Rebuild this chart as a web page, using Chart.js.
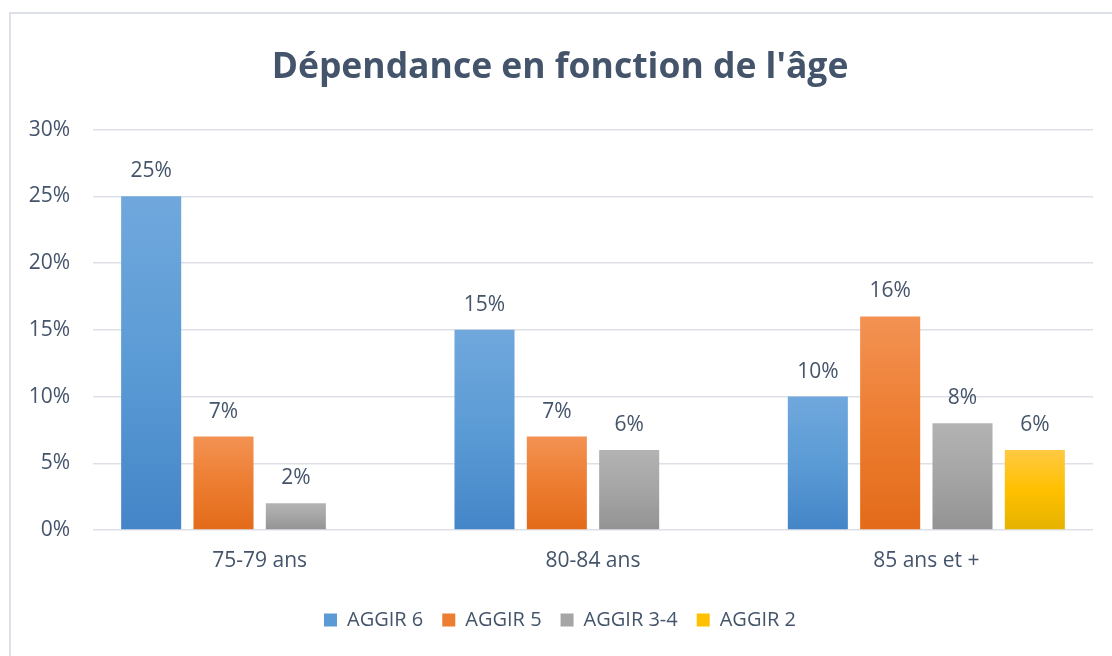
<!DOCTYPE html>
<html lang="fr">
<head>
<meta charset="utf-8">
<title>Dépendance en fonction de l'âge</title>
<script src="https://cdn.jsdelivr.net/npm/chart.js@4/dist/chart.umd.min.js"></script>
<style>
  html, body { margin: 0; padding: 0; background: #fff; }
  #frame {
    position: absolute; left: 9px; top: 12px; right: -10px; bottom: -10px;
    border-top: 2px solid #DDE1E7; border-left: 2px solid #DDE1E7;
  }
  #wrap { position: absolute; left: 0; top: 0; width: 1112px; height: 656px; }
</style>
</head>
<body>
<div id="frame"></div>
<div id="wrap"><canvas id="myChart"></canvas></div>
<script>
const categories = ['75-79 ans', '80-84 ans', '85 ans et +'];
const seriesNames = ['AGGIR 6', 'AGGIR 5', 'AGGIR 3-4', 'AGGIR 2'];
const aggir6 = [25, 15, 10];
const aggir5 = [7, 7, 16];
const aggir34 = [2, 6, 8];
const aggir2 = [null, null, 6];
const yTicks = [0, 5, 10, 15, 20, 25, 30];

const textColor = '#44546A';

// top / middle / bottom of each bar gradient
const shades = [
  ['#70A8DD', '#5B9BD5', '#4485C8'],
  ['#F39253', '#ED7D31', '#E36B1A'],
  ['#B3B3B3', '#A5A5A5', '#939393'],
  ['#FFC943', '#FFC000', '#E5B200']
];

const barFill = (i) => (context) => {
  const chart = context.chart;
  const v = context.raw;
  if (!chart.chartArea || context.type !== 'data' || v == null) return shades[i][1];
  const y = chart.scales.y;
  const g = chart.ctx.createLinearGradient(0, y.getPixelForValue(v), 0, y.getPixelForValue(0));
  g.addColorStop(0, shades[i][0]);
  g.addColorStop(0.5, shades[i][1]);
  g.addColorStop(1, shades[i][2]);
  return g;
};

const valueLabels = {
  id: 'valueLabels',
  afterDatasetsDraw(chart) {
    const ctx = chart.ctx;
    ctx.save();
    ctx.fillStyle = textColor;
    ctx.font = '21px "Open Sans"';
    ctx.textAlign = 'center';
    ctx.textBaseline = 'alphabetic';
    chart.data.datasets.forEach((ds, di) => {
      chart.getDatasetMeta(di).data.forEach((bar, i) => {
        const v = ds.data[i];
        if (v == null) return;
        ctx.fillText(v + '%', bar.x, bar.y - 19);
      });
    });
    ctx.restore();
  }
};

const allSeries = [aggir6, aggir5, aggir34, aggir2];

new Chart(document.getElementById('myChart'), {
  type: 'bar',
  data: {
    labels: categories,
    datasets: allSeries.map((d, i) => ({
      label: seriesNames[i],
      data: d,
      backgroundColor: barFill(i),
      borderWidth: 0,
      categoryPercentage: 0.868,
      barPercentage: 0.83
    }))
  },
  options: {
    responsive: true,
    maintainAspectRatio: false,
    animation: false,
    layout: { padding: { left: 27, right: 19, top: 0, bottom: 16 } },
    scales: {
      x: {
        afterFit(scale) { scale.height = 61; },
        grid: { display: false },
        border: { display: false },
        ticks: { color: textColor, font: { family: 'Open Sans', size: 21 }, padding: 10 }
      },
      y: {
        min: 0,
        max: 30,
        afterFit(scale) { scale.width = 66; },
        afterBuildTicks(scale) { scale.ticks = yTicks.map(v => ({ value: v })); },
        grid: { color: '#DDE1E7', lineWidth: 1.5, drawTicks: false },
        border: { display: false },
        ticks: {
          color: textColor,
          font: { family: 'Open Sans', size: 21 },
          padding: 23,
          callback: v => v + '%'
        }
      }
    },
    plugins: {
      title: {
        display: true,
        text: "Dépendance en fonction de l'âge",
        color: textColor,
        font: { family: 'Open Sans', size: 35.5, weight: 'bold' },
        padding: { top: 47, bottom: 40 }
      },
      legend: {
        position: 'bottom',
        labels: {
          color: textColor,
          font: { family: 'Open Sans', size: 20 },
          boxWidth: 13,
          boxHeight: 13,
          padding: 19,
          generateLabels(chart) {
            return chart.data.datasets.map((ds, i) => ({
              text: ds.label,
              fillStyle: shades[i][1],
              strokeStyle: shades[i][1],
              lineWidth: 0,
              fontColor: textColor,
              datasetIndex: i
            }));
          }
        }
      },
      tooltip: { enabled: false }
    }
  },
  plugins: [valueLabels]
});
</script>
</body>
</html>
